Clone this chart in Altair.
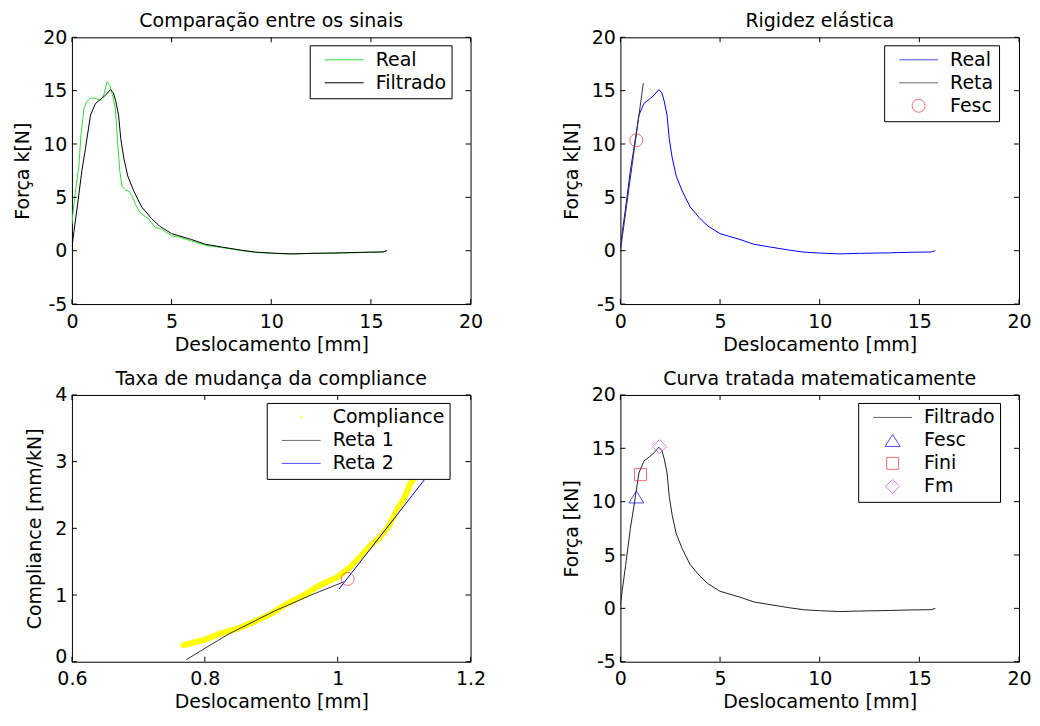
import altair as alt
import pandas as pd

# ---------------- data ----------------
# Filtered force–displacement curve (panel 1 "Filtrado", panel 2 "Real", panel 4 "Filtrado")
filt_x = [0.0, 0.1, 0.26, 0.5, 0.68, 0.93, 1.18, 1.45, 1.7, 1.93, 2.08, 2.2, 2.34, 2.45,
          2.6, 2.8, 3.1, 3.5, 4.0, 4.4, 5.0, 6.0, 6.7, 7.5, 8.5, 9.2, 10.0, 11.0, 12.0,
          13.5, 14.5, 15.6, 15.8]
filt_y = [0.3, 1.8, 4.0, 7.5, 9.6, 12.7, 13.8, 14.2, 14.6, 15.1, 14.8, 14.0, 12.7, 10.5,
          8.7, 7.0, 5.6, 4.1, 3.0, 2.3, 1.6, 1.05, 0.6, 0.35, 0.05, -0.13, -0.22, -0.3,
          -0.25, -0.2, -0.15, -0.12, 0.0]
# Raw signal (panel 1 "Real")
real_x = [0.0, 0.05, 0.18, 0.35, 0.45, 0.6, 0.75, 0.93, 1.15, 1.43, 1.6, 1.76, 1.9, 2.05,
          2.18, 2.3, 2.4, 2.51, 2.68, 2.85, 3.0, 3.2, 3.4, 3.84, 4.17, 4.5, 5.0, 5.4, 6.2,
          6.7, 7.5, 8.5, 9.2, 10.0, 11.0, 12.0, 13.0, 14.0, 15.0, 15.6, 15.8]
real_y = [2.5, 3.5, 5.6, 8.0, 10.8, 13.3, 14.0, 14.3, 14.3, 14.1, 14.6, 15.85, 15.5, 14.5,
          13.3, 10.0, 7.5, 6.0, 5.7, 5.6, 5.2, 4.3, 3.6, 3.0, 2.2, 2.0, 1.4, 1.25, 0.8,
          0.5, 0.3, 0.0, -0.15, -0.25, -0.3, -0.25, -0.25, -0.2, -0.15, -0.1, 0.0]
# Elastic stiffness line and yield point (panel 2)
reta_x = [0.0, 1.15]
reta_y = [0.0, 15.7]
fesc2_x = [0.8]
fesc2_y = [10.35]
# Compliance (panel 3)
comp_x = [0.768, 0.8, 0.82, 0.85, 0.87, 0.9, 0.92, 0.95, 0.97, 1.0, 1.019, 1.035, 1.049,
          1.064, 1.078, 1.089, 1.1, 1.109, 1.124, 1.14]
comp_y = [0.25, 0.33, 0.41, 0.5, 0.58, 0.72, 0.85, 1.0, 1.13, 1.27, 1.42, 1.58, 1.74,
          1.87, 2.05, 2.27, 2.45, 2.66, 2.91, 3.2]
reta1_x = [0.772, 0.835, 0.905, 0.96, 1.01]
reta1_y = [0.03, 0.41, 0.76, 1.0, 1.2]
reta2_x = [1.002, 1.137]
reta2_y = [1.09, 2.81]
knee_x = [1.015]
knee_y = [1.24]
# Characteristic points (panel 4)
fesc_x, fesc_y = [0.8], [10.44]
fini_x, fini_y = [1.01], [12.53]
fm_x, fm_y = [1.96], [15.16]

# tick values
force_ticks = [-5, 0, 5, 10, 15, 20]
disp_ticks = [0, 5, 10, 15, 20]
comp_xticks = [0.6, 0.8, 1.0, 1.2]
comp_yticks = [0, 1, 2, 3, 4]

# ---------------- style ----------------
FONT = "DejaVu Sans"
FS = 19
W, H = 399, 267
LINE = "M-3,0H3"
DOT = "M0.23,0A0.23,0.23,0,1,1,-0.23,0A0.23,0.23,0,1,1,0.23,0Z"
TRI = "M0,-0.92L1.15,0.92L-1.15,0.92Z"
SQR = "M-0.92,-0.92H0.92V0.92H-0.92Z"
DIA = "M0,-1.08L1.08,0L0,1.08L-1.08,0Z"
GREEN = "#33dd33"
BLUE = "#0000ff"
RED = "#e8303a"
MAG = "#e040e0"
YEL = "#ffff00"


def df(x, y, s):
    return pd.DataFrame({"x": x, "y": y, "s": [s] * len(x)})


def legend(lx, ly, stype=None):
    kw = dict(orient="none", legendX=lx, legendY=ly, title=None, strokeColor="black",
              fillColor="white", padding=5, labelFont=FONT, labelFontSize=FS,
              labelColor="black", symbolSize=169, symbolStrokeWidth=1, symbolOffset=20,
              labelOffset=22, rowPadding=3, labelLimit=0)
    if stype:
        kw["symbolType"] = stype
    return alt.Legend(**kw)


def panel(layers_fn, xdom, ydom, xt, yt, xtitle, ytitle, title, lift_bottom=False):
    xs = alt.Scale(domain=xdom, nice=False, zero=False)
    ys = alt.Scale(domain=ydom, nice=False, zero=False)
    xax = alt.Axis(values=xt, ticks=False, tickSize=0, domain=False, grid=False,
                   labelFlush=False, labelExpr="'' + datum.value", title=xtitle,
                   labelPadding=8, titlePadding=4)
    ykw = dict(values=yt, ticks=False, tickSize=0, domain=False, grid=False,
               labelFlush=False, labelExpr="'' + datum.value", title=ytitle,
               labelPadding=5, titlePadding=10)
    if lift_bottom:
        ykw["labelOffset"] = {"condition": {"test": "datum.value === %s" % ydom[0],
                                            "value": -5}, "value": 0}
    yax = alt.Axis(**ykw)
    X = alt.X("x:Q", scale=xs, axis=xax)
    Y = alt.Y("y:Q", scale=ys, axis=yax)
    layers = layers_fn(X, Y)
    ydf = pd.DataFrame({"y": yt})
    xdf = pd.DataFrame({"x": xt})
    tick = dict(color="black", strokeWidth=1)
    lt = alt.Chart(ydf).mark_rule(**tick).encode(y=Y, x=alt.value(0), x2=alt.value(5))
    rt = alt.Chart(ydf).mark_rule(**tick).encode(y=Y, x=alt.value(W - 5), x2=alt.value(W))
    bt = alt.Chart(xdf).mark_rule(**tick).encode(x=X, y=alt.value(H - 5), y2=alt.value(H))
    tt = alt.Chart(xdf).mark_rule(**tick).encode(x=X, y=alt.value(0), y2=alt.value(5))
    return alt.layer(*layers, lt, rt, bt, tt).properties(
        width=W, height=H,
        title=alt.TitleParams(title, font=FONT, fontSize=FS, fontWeight="normal",
                              color="black", offset=-3))


# ---- panel 1
def p1_layers(X, Y):
    dom = ["Real", "Filtrado"]
    cs = alt.Scale(domain=dom, range=[GREEN, "black"])
    lg = legend(238, 8, LINE)
    a = alt.Chart(df(real_x, real_y, "Real")).mark_line(strokeWidth=1, clip=True).encode(
        x=X, y=Y, color=alt.Color("s:N", scale=cs, legend=lg))
    b = alt.Chart(df(filt_x, filt_y, "Filtrado")).mark_line(strokeWidth=1, clip=True).encode(
        x=X, y=Y, color=alt.Color("s:N", scale=cs, legend=lg))
    return [a, b]


# ---- panel 2
def p2_layers(X, Y):
    dom = ["Real", "Reta", "Fesc"]
    cs = alt.Scale(domain=dom, range=[BLUE, "#333333", RED])
    ss = alt.Scale(domain=dom, range=[LINE, LINE, "circle"])
    lg = legend(264, 8)
    a = alt.Chart(df(filt_x, filt_y, "Real")).mark_line(strokeWidth=1, clip=True).encode(
        x=X, y=Y, color=alt.Color("s:N", scale=cs, legend=lg))
    b = alt.Chart(df(reta_x, reta_y, "Reta")).mark_line(strokeWidth=1, clip=True).encode(
        x=X, y=Y, color=alt.Color("s:N", scale=cs, legend=lg))
    c = alt.Chart(df(fesc2_x, fesc2_y, "Fesc")).mark_point(filled=False, size=169, strokeWidth=1).encode(
        x=X, y=Y, color=alt.Color("s:N", scale=cs, legend=lg),
        shape=alt.Shape("s:N", scale=ss, legend=lg))
    return [a, b, c]


# ---- panel 3
def p3_layers(X, Y):
    dom = ["Compliance", "Reta 1", "Reta 2"]
    cs = alt.Scale(domain=dom, range=[YEL, "#333333", BLUE])
    ss = alt.Scale(domain=dom, range=[DOT, LINE, LINE])
    lg = legend(195, 8)
    band = alt.Chart(df(comp_x, comp_y, "Compliance")).mark_line(
        strokeWidth=6, color=YEL, clip=True, strokeCap="round").encode(x=X, y=Y)
    pts = alt.Chart(df(comp_x, comp_y, "Compliance")).mark_point(
        filled=False, size=169, strokeWidth=1, clip=True).encode(
        x=X, y=Y, color=alt.Color("s:N", scale=cs, legend=lg),
        shape=alt.Shape("s:N", scale=ss, legend=lg))
    r1 = alt.Chart(df(reta1_x, reta1_y, "Reta 1")).mark_line(strokeWidth=1, clip=True).encode(
        x=X, y=Y, color=alt.Color("s:N", scale=cs, legend=lg))
    r2 = alt.Chart(df(reta2_x, reta2_y, "Reta 2")).mark_line(strokeWidth=1, clip=True).encode(
        x=X, y=Y, color=alt.Color("s:N", scale=cs, legend=lg))
    kn = alt.Chart(df(knee_x, knee_y, "k")).mark_point(
        filled=False, size=169, strokeWidth=1, color=RED, shape="circle").encode(x=X, y=Y)
    return [band, pts, r1, r2, kn]


# ---- panel 4
def p4_layers(X, Y):
    dom = ["Filtrado", "Fesc", "Fini", "Fm"]
    cs = alt.Scale(domain=dom, range=["#222222", BLUE, RED, MAG])
    ss = alt.Scale(domain=dom, range=[LINE, TRI, SQR, DIA])
    lg = legend(238, 8)
    a = alt.Chart(df(filt_x, filt_y, "Filtrado")).mark_line(strokeWidth=1, clip=True).encode(
        x=X, y=Y, color=alt.Color("s:N", scale=cs, legend=lg))
    pts = pd.concat([df(fesc_x, fesc_y, "Fesc"), df(fini_x, fini_y, "Fini"),
                     df(fm_x, fm_y, "Fm")])
    b = alt.Chart(pts).mark_point(filled=False, size=169, strokeWidth=1).encode(
        x=X, y=Y, color=alt.Color("s:N", scale=cs, legend=lg),
        shape=alt.Shape("s:N", scale=ss, legend=lg))
    return [a, b]


c1 = panel(p1_layers, [0, 20], [-5, 20], disp_ticks, force_ticks,
           "Deslocamento [mm]", "Força k[N]", "Comparação entre os sinais")
c2 = panel(p2_layers, [0, 20], [-5, 20], disp_ticks, force_ticks,
           "Deslocamento [mm]", "Força k[N]", "Rigidez elástica")
c3 = panel(p3_layers, [0.6, 1.2], [0, 4], comp_xticks, comp_yticks,
           "Deslocamento [mm]", "Compliance [mm/kN]", "Taxa de mudança da compliance",
           lift_bottom=True)
c4 = panel(p4_layers, [0, 20], [-5, 20], disp_ticks, force_ticks,
           "Deslocamento [mm]", "Força [kN]", "Curva tratada matematicamente")

chart = alt.concat(c1, c2, c3, c4, columns=2, spacing={"row": 14, "column": 75}).resolve_scale(
    color="independent", shape="independent").properties(
    padding={"left": 5, "top": 3, "right": 0, "bottom": 0},
    background="white",
).configure_view(stroke="black", strokeWidth=1).configure_axis(
    labelFont=FONT, labelFontSize=FS, titleFont=FONT, titleFontSize=FS,
    labelColor="black", titleColor="black", titleFontWeight="normal")

chart.save("out.html", embed_options={"renderer": "svg", "actions": False})
